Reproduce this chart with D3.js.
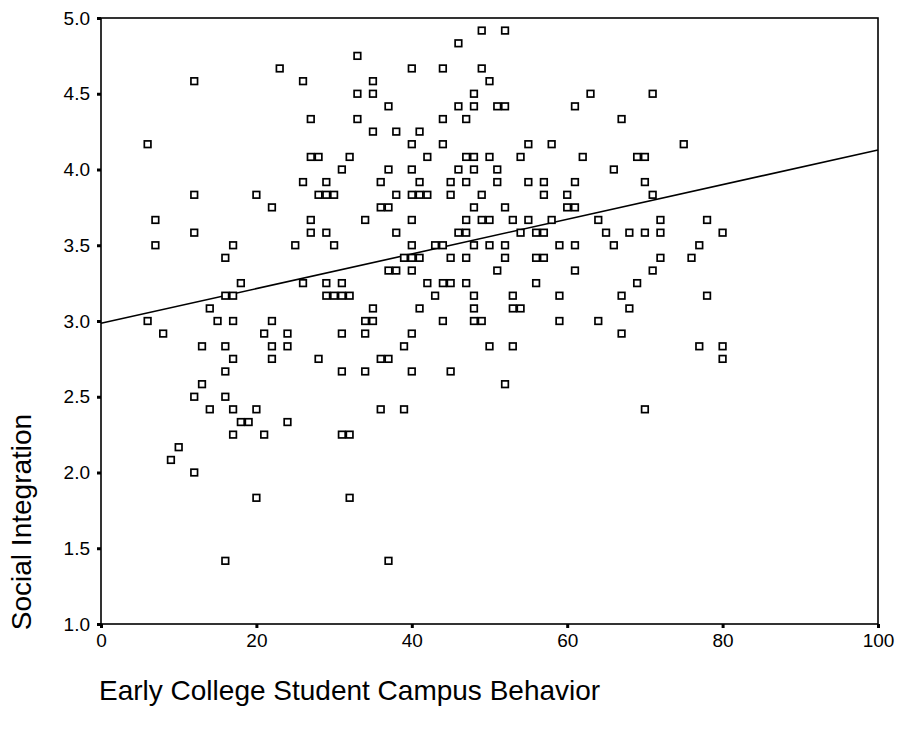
<!DOCTYPE html>
<html>
<head>
<meta charset="utf-8">
<script src="https://cdn.jsdelivr.net/npm/d3@7"></script>
<style>
  body { margin: 0; background: #fff; }
  svg { display: block; font-family: "Liberation Sans", Arial, sans-serif; }
</style>
</head>
<body>
<svg id="chart" width="899" height="729"></svg>
<script>
// Early College Student Campus Behavior (x) vs Social Integration (y)
const campusBehavior = [
  49, 52,
  46,
  33,
  23, 40, 44, 49,
  12, 26, 35, 50,
  33, 35, 48, 63, 71,
  37, 46, 48, 51, 52, 61,
  27, 33, 44, 47, 67,
  35, 38, 41,
  6, 40, 44, 55, 58, 75,
  27, 28, 32, 42, 47, 48, 50, 54, 62, 69, 70,
  31, 37, 40, 46, 48, 51, 66,
  26, 29, 36, 41, 45, 47, 51, 55, 57, 61, 70,
  12, 20, 28, 29, 30, 38, 40, 41, 42, 45, 49, 57, 60, 71,
  22, 36, 37, 48, 52, 60, 61,
  7, 27, 34, 40, 47, 49, 50, 53, 55, 58, 64, 72, 78,
  12, 27, 29, 38, 46, 47, 54, 56, 57, 65, 68, 70, 72, 80,
  7, 17, 25, 30, 40, 43, 44, 48, 50, 52, 59, 61, 66, 77,
  16, 39, 40, 41, 45, 47, 52, 56, 57, 72, 76,
  37, 38, 40, 51, 61, 71,
  18, 26, 29, 31, 42, 44, 45, 47, 56, 69,
  16, 17, 29, 30, 31, 32, 43, 48, 53, 59, 67, 78,
  14, 35, 41, 48, 53, 54, 68,
  6, 15, 17, 22, 34, 35, 44, 48, 49, 59, 64,
  8, 21, 24, 31, 34, 40, 67,
  13, 16, 22, 24, 39, 50, 53, 77, 80,
  17, 22, 28, 36, 37, 80,
  16, 31, 34, 40, 45,
  13, 52,
  12, 16,
  14, 17, 20, 36, 39, 70,
  18, 19, 24,
  17, 21, 31, 32,
  10,
  9,
  12,
  20, 32,
  16, 37
];

const socialIntegration = [
  4.917, 4.917,
  4.833,
  4.75,
  4.667, 4.667, 4.667, 4.667,
  4.583, 4.583, 4.583, 4.583,
  4.5, 4.5, 4.5, 4.5, 4.5,
  4.417, 4.417, 4.417, 4.417, 4.417, 4.417,
  4.333, 4.333, 4.333, 4.333, 4.333,
  4.25, 4.25, 4.25,
  4.167, 4.167, 4.167, 4.167, 4.167, 4.167,
  4.083, 4.083, 4.083, 4.083, 4.083, 4.083, 4.083, 4.083, 4.083, 4.083, 4.083,
  4.0, 4.0, 4.0, 4.0, 4.0, 4.0, 4.0,
  3.917, 3.917, 3.917, 3.917, 3.917, 3.917, 3.917, 3.917, 3.917, 3.917, 3.917,
  3.833, 3.833, 3.833, 3.833, 3.833, 3.833, 3.833, 3.833, 3.833, 3.833, 3.833, 3.833, 3.833, 3.833,
  3.75, 3.75, 3.75, 3.75, 3.75, 3.75, 3.75,
  3.667, 3.667, 3.667, 3.667, 3.667, 3.667, 3.667, 3.667, 3.667, 3.667, 3.667, 3.667, 3.667,
  3.583, 3.583, 3.583, 3.583, 3.583, 3.583, 3.583, 3.583, 3.583, 3.583, 3.583, 3.583, 3.583, 3.583,
  3.5, 3.5, 3.5, 3.5, 3.5, 3.5, 3.5, 3.5, 3.5, 3.5, 3.5, 3.5, 3.5, 3.5,
  3.417, 3.417, 3.417, 3.417, 3.417, 3.417, 3.417, 3.417, 3.417, 3.417, 3.417,
  3.333, 3.333, 3.333, 3.333, 3.333, 3.333,
  3.25, 3.25, 3.25, 3.25, 3.25, 3.25, 3.25, 3.25, 3.25, 3.25,
  3.167, 3.167, 3.167, 3.167, 3.167, 3.167, 3.167, 3.167, 3.167, 3.167, 3.167, 3.167,
  3.083, 3.083, 3.083, 3.083, 3.083, 3.083, 3.083,
  3.0, 3.0, 3.0, 3.0, 3.0, 3.0, 3.0, 3.0, 3.0, 3.0, 3.0,
  2.917, 2.917, 2.917, 2.917, 2.917, 2.917, 2.917,
  2.833, 2.833, 2.833, 2.833, 2.833, 2.833, 2.833, 2.833, 2.833,
  2.75, 2.75, 2.75, 2.75, 2.75, 2.75,
  2.667, 2.667, 2.667, 2.667, 2.667,
  2.583, 2.583,
  2.5, 2.5,
  2.417, 2.417, 2.417, 2.417, 2.417, 2.417,
  2.333, 2.333, 2.333,
  2.25, 2.25, 2.25, 2.25,
  2.167,
  2.083,
  2.0,
  1.833, 1.833,
  1.417, 1.417
];

// fit line as drawn in the picture
const fitIntercept = 2.985;
const fitSlope = 0.01144;

const xTicks = [0, 20, 40, 60, 80, 100];
const yTicks = [1.0, 1.5, 2.0, 2.5, 3.0, 3.5, 4.0, 4.5, 5.0];

const xTitle = "Early College Student Campus Behavior";
const yTitle = "Social Integration";

const points = campusBehavior.map((d, i) => ({x: d, y: socialIntegration[i]}));

const plot = {left: 101, right: 878, top: 18, bottom: 624};

const x = d3.scaleLinear().domain([0, 100]).range([plot.left, plot.right]);
const y = d3.scaleLinear().domain([1, 5]).range([plot.bottom, plot.top]);

const svg = d3.select("#chart");

svg.append("rect")
    .attr("width", 899).attr("height", 729)
    .attr("fill", "#fff");

// axes (ticks + labels only, the frame is drawn separately)
const yAxis = svg.append("g")
    .attr("transform", "translate(" + plot.left + ",0)")
    .call(d3.axisLeft(y).tickValues(yTicks).tickFormat(d3.format(".1f")).tickSize(4).tickPadding(7));

const xAxis = svg.append("g")
    .attr("transform", "translate(0," + plot.bottom + ")")
    .call(d3.axisBottom(x).tickValues(xTicks).tickFormat(d3.format("d")).tickSize(4).tickPadding(6));

[xAxis, yAxis].forEach(function(g) {
    g.select(".domain").remove();
    g.selectAll(".tick line").attr("stroke", "#000").attr("stroke-width", 3);
    g.selectAll(".tick text")
        .attr("fill", "#000")
        .style("font-size", "19px")
        .style("font-family", "'Liberation Sans', Arial, sans-serif");
});

// plot frame
svg.append("rect")
    .attr("x", plot.left).attr("y", plot.top)
    .attr("width", plot.right - plot.left)
    .attr("height", plot.bottom - plot.top)
    .attr("fill", "none")
    .attr("stroke", "#000")
    .attr("stroke-width", 1.6);

// regression line
svg.append("line")
    .attr("x1", x(0)).attr("y1", y(fitIntercept))
    .attr("x2", x(100)).attr("y2", y(fitIntercept + fitSlope * 100))
    .attr("stroke", "#000")
    .attr("stroke-width", 1.6);

// square markers
svg.append("g")
    .selectAll("rect")
    .data(points)
    .enter().append("rect")
    .attr("x", d => x(d.x) - 3.3)
    .attr("y", d => y(d.y) - 3.3)
    .attr("width", 6.6)
    .attr("height", 6.6)
    .attr("fill", "#fff")
    .attr("stroke", "#000")
    .attr("stroke-width", 1.7);

// axis titles
svg.append("text")
    .attr("x", plot.left - 2)
    .attr("y", 700)
    .style("font-size", "28px")
    .attr("fill", "#000")
    .text(xTitle);

svg.append("text")
    .attr("transform", "translate(31,522) rotate(-90)")
    .attr("text-anchor", "middle")
    .style("font-size", "28px")
    .attr("fill", "#000")
    .text(yTitle);
</script>
</body>
</html>
